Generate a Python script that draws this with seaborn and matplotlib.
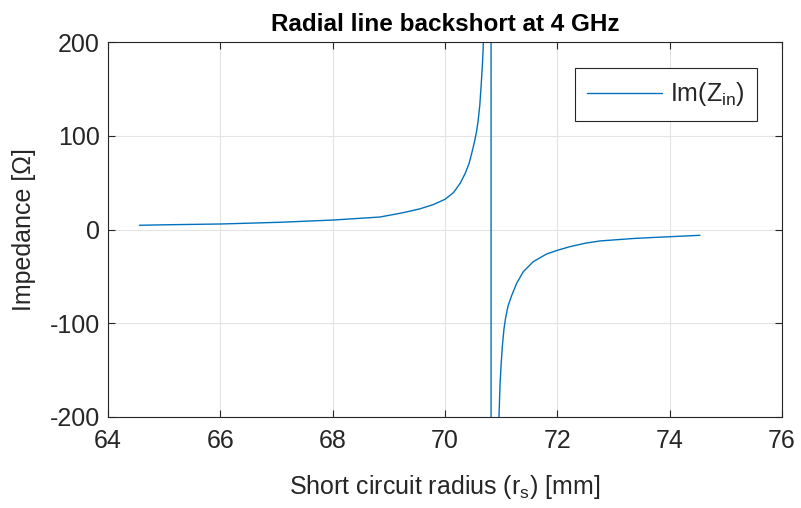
import matplotlib
matplotlib.use("Agg")
import matplotlib.pyplot as plt
import seaborn as sns
import pandas as pd

# Data
radius_mm = [64.56, 65.0, 66.02, 67.06, 68.01, 68.84, 69.20, 69.32, 69.55, 69.79,
             70.00, 70.15, 70.27, 70.36, 70.43, 70.49, 70.53, 70.56, 70.59,
             70.62, 70.645, 70.67, 70.69, 70.75,
             70.82, 70.82,
             70.90, 70.961, 70.98, 70.997, 71.02, 71.05, 71.08, 71.12, 71.19,
             71.276, 71.394, 71.572, 71.81, 72.017, 72.225, 72.5, 72.76, 73.40,
             74.0, 74.54]
im_zin = [4.5, 5.0, 5.9, 7.7, 10.1, 13.3, 17.3, 18.8, 22.0, 26.5,
          32.2, 39.3, 49.3, 59.9, 70.6, 84.8, 95.0, 104.0, 116.0,
          133.0, 155.0, 180.0, 210.0, 320.0,
          5000.0, -5000.0,
          -400.0, -200.0, -165.0, -146.0, -125.0, -106.0, -94.0, -82.0, -70.0,
          -57.4, -45.0, -34.3, -26.1, -21.9, -18.3, -14.6, -12.2, -9.4,
          -7.7, -6.2]
x_ticks = [64, 66, 68, 70, 72, 74, 76]
y_ticks = [-200, -100, 0, 100, 200]

df = pd.DataFrame({"r": radius_mm, "im": im_zin})

sns.set_theme(style="white")
plt.rcParams["font.family"] = ["Liberation Sans", "DejaVu Sans"]
plt.rcParams["mathtext.default"] = "regular"
plt.rcParams["axes.unicode_minus"] = False

fig = plt.figure(figsize=(8.01, 5.08), dpi=100)
ax = fig.add_axes([108 / 801, 1 - 417 / 508, 674 / 801, 375 / 508])

sns.lineplot(data=df, x="r", y="im", ax=ax, estimator=None, sort=False,
             color="#0072BD", linewidth=1.0, label=r"Im(Z$_{in}$)")

ax.set_xlim(64, 76)
ax.set_ylim(-200, 200)
ax.set_xticks(x_ticks)
ax.set_yticks(y_ticks)
ax.grid(True, color="#e3e3e3", linewidth=0.8)
ax.set_axisbelow(True)
for s in ax.spines.values():
    s.set_visible(True)
    s.set_color("#262626")
    s.set_linewidth(0.8)
ax.tick_params(direction="in", length=5, width=0.8, colors="#262626",
               labelsize=18, top=True, right=True, bottom=True, left=True,
               labelcolor="#262626")
ax.tick_params(axis="x", pad=9)
ax.tick_params(axis="y", pad=6)

ax.set_title("Radial line backshort at 4 GHz", fontsize=17.5, fontweight="bold",
             color="black", pad=8)
ax.set_xlabel(r"Short circuit radius (r$_s$) [mm]", fontsize=18, color="#262626",
              labelpad=14)
ax.set_ylabel("Impedance [Ω]", fontsize=18, color="#262626", labelpad=10)

leg = ax.legend(loc="upper right", bbox_to_anchor=(0.963, 0.931),
                borderaxespad=0, fontsize=18, fancybox=False, framealpha=1,
                edgecolor="#262626", handlelength=3.0, handletextpad=0.3,
                borderpad=0.5)
leg.get_frame().set_linewidth(0.8)

fig.savefig("out.png", dpi=100)
